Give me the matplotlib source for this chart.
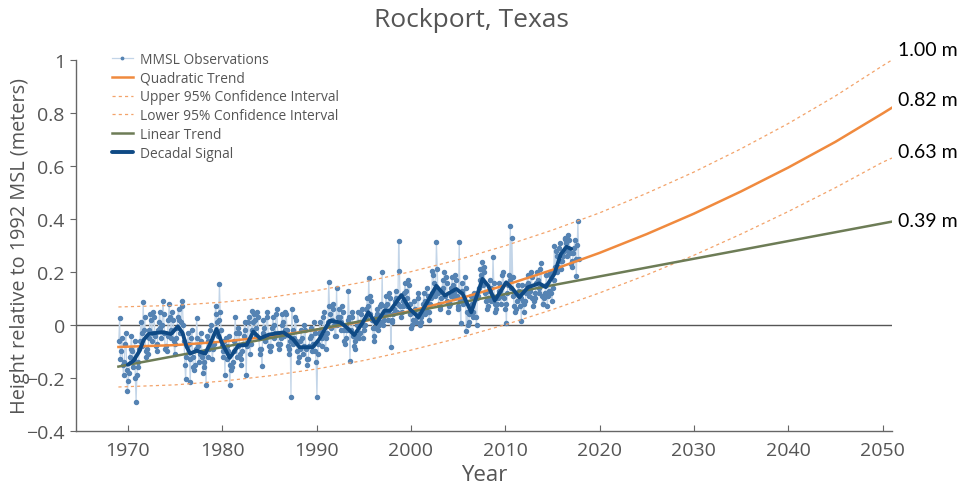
import numpy as np
import matplotlib
matplotlib.use("Agg")
import matplotlib.pyplot as plt
from matplotlib.ticker import FuncFormatter

plt.rcParams["font.family"] = ["Open Sans", "DejaVu Sans"]

# Monthly mean sea level (m, relative to 1992 MSL), one row per year starting Jan 1969
mmsl_start_year = 1969
mmsl_rows = [
    [-0.06, 0.025, -0.13, -0.10, -0.05, -0.15, -0.19, -0.14, -0.07, -0.03, -0.17, -0.25],   # 1969
    [-0.21, -0.18, -0.12, -0.09, -0.04, -0.10, -0.16, -0.13, -0.06, -0.20, -0.29, -0.19],   # 1970
    [-0.14, -0.16, -0.09, -0.06, 0.01, -0.03, -0.08, 0.086, -0.02, 0.03, -0.10, -0.12],     # 1971
    [-0.09, -0.11, -0.05, -0.02, 0.04, 0.02, -0.06, -0.03, 0.05, 0.03, -0.04, -0.08],       # 1972
    [-0.10, -0.07, -0.02, 0.01, 0.05, -0.01, -0.05, 0.00, 0.092, 0.04, -0.03, -0.09],       # 1973
    [-0.08, -0.10, -0.04, 0.02, 0.079, 0.03, -0.05, -0.02, 0.05, 0.02, -0.06, -0.11],       # 1974
    [-0.07, -0.05, -0.01, 0.03, 0.06, 0.02, -0.03, 0.01, 0.092, 0.07, 0.00, -0.06],         # 1975
    [-0.15, -0.204, -0.12, -0.08, -0.03, -0.07, -0.13, -0.214, -0.05, -0.02, -0.12, -0.16], # 1976
    [-0.17, -0.15, -0.09, 0.025, -0.05, -0.08, -0.14, -0.11, -0.03, -0.06, -0.12, -0.18],   # 1977
    [-0.16, -0.14, -0.10, -0.226, -0.04, -0.06, -0.12, -0.09, -0.02, 0.00, -0.08, -0.13],   # 1978
    [-0.09, -0.07, -0.03, 0.073, 0.04, 0.01, -0.04, 0.02, 0.155, 0.05, -0.02, -0.08],       # 1979
    [-0.12, -0.10, -0.06, -0.189, -0.05, -0.08, -0.13, -0.10, -0.04, -0.226, -0.15, -0.17], # 1980
    [-0.16, -0.14, -0.10, -0.06, 0.029, -0.03, -0.12, -0.08, -0.01, -0.03, -0.11, -0.15],   # 1981
    [-0.13, -0.10, -0.07, -0.04, 0.01, -0.02, -0.189, -0.08, 0.01, 0.03, -0.06, -0.11],     # 1982
    [-0.07, 0.054, -0.02, 0.01, 0.04, 0.02, -0.04, -0.01, 0.05, 0.03, -0.05, -0.09],        # 1983
    [-0.11, -0.09, -0.154, -0.03, 0.02, -0.01, -0.06, -0.04, 0.03, 0.05, -0.04, -0.08],     # 1984
    [-0.10, -0.08, -0.04, -0.01, 0.03, 0.00, -0.05, -0.03, 0.04, 0.06, -0.03, -0.07],       # 1985
    [-0.09, -0.07, -0.05, 0.00, 0.04, 0.01, -0.04, -0.02, 0.05, 0.04, -0.02, -0.08],        # 1986
    [-0.11, -0.09, -0.06, -0.273, 0.06, -0.02, -0.07, -0.05, 0.03, 0.02, -0.06, -0.10],     # 1987
    [-0.14, -0.12, -0.09, -0.06, -0.02, -0.05, -0.11, -0.08, 0.00, -0.02, -0.09, -0.13],    # 1988
    [-0.15, -0.13, -0.08, -0.05, -0.01, -0.04, -0.10, -0.07, 0.01, -0.03, -0.10, -0.14],    # 1989
    [-0.273, -0.11, -0.07, -0.03, 0.01, -0.02, -0.08, -0.05, 0.03, 0.05, -0.04, -0.09],     # 1990
    [-0.05, -0.03, 0.01, 0.163, 0.07, 0.04, -0.01, 0.02, 0.08, 0.06, 0.00, -0.04],          # 1991
    [-0.04, 0.138, 0.00, 0.03, 0.06, 0.03, -0.02, 0.01, 0.07, 0.05, -0.02, -0.06],          # 1992
    [-0.07, -0.05, -0.02, 0.02, 0.130, 0.03, -0.135, -0.02, 0.05, 0.03, -0.04, -0.08],      # 1993
    [-0.09, -0.06, -0.04, 0.00, 0.05, 0.01, -0.05, -0.03, 0.04, 0.06, 0.00, -0.05],         # 1994
    [-0.02, 0.00, 0.03, 0.06, 0.10, 0.07, 0.176, 0.04, 0.11, 0.09, 0.02, -0.01],            # 1995
    [-0.06, -0.04, -0.01, 0.03, 0.06, 0.04, -0.02, 0.00, 0.07, 0.08, 0.01, 0.199],          # 1996
    [0.00, 0.02, 0.04, 0.07, 0.11, 0.08, 0.02, 0.05, 0.12, 0.10, -0.084, 0.01],             # 1997
    [0.02, 0.04, 0.06, 0.09, 0.13, 0.10, 0.05, 0.08, 0.318, 0.205, 0.07, 0.03],             # 1998
    [0.05, 0.07, 0.09, 0.12, 0.16, 0.13, 0.07, 0.10, 0.17, 0.15, 0.08, 0.04],               # 1999
    [-0.01, 0.00, 0.02, 0.05, 0.09, 0.06, 0.01, 0.03, 0.10, 0.12, 0.04, 0.00],              # 2000
    [0.01, 0.03, 0.05, 0.08, 0.12, 0.09, 0.04, 0.06, 0.14, 0.11, 0.05, 0.02],               # 2001
    [0.08, 0.10, 0.12, 0.205, 0.19, 0.16, 0.11, 0.13, 0.312, 0.21, 0.12, 0.08],             # 2002
    [0.06, 0.07, 0.10, 0.13, 0.17, 0.14, 0.20, 0.11, 0.18, 0.16, 0.09, 0.05],               # 2003
    [0.07, 0.08, 0.11, 0.14, 0.18, 0.15, 0.10, 0.12, 0.19, 0.17, 0.11, 0.06],               # 2004
    [0.07, 0.314, 0.09, 0.006, 0.16, 0.13, 0.08, 0.10, 0.18, 0.14, -0.021, 0.05],           # 2005
    [0.00, 0.01, 0.04, 0.07, 0.11, 0.08, 0.03, 0.05, 0.12, 0.10, 0.03, 0.00],               # 2006
    [0.10, 0.11, 0.14, 0.17, 0.21, 0.19, 0.236, 0.15, 0.22, 0.20, 0.12, 0.09],              # 2007
    [0.06, 0.07, 0.10, 0.13, 0.17, 0.14, 0.09, 0.11, 0.258, 0.16, 0.08, 0.05],              # 2008
    [0.06, 0.08, 0.10, 0.13, 0.16, 0.13, 0.08, 0.11, 0.19, 0.20, 0.10, 0.06],               # 2009
    [0.08, 0.006, 0.12, 0.15, 0.19, 0.17, 0.375, 0.14, 0.328, 0.18, 0.11, 0.07],            # 2010
    [0.05, 0.06, 0.09, 0.12, 0.15, 0.13, 0.07, 0.10, 0.016, 0.15, 0.09, 0.05],              # 2011
    [0.08, 0.09, 0.12, 0.15, 0.19, 0.16, 0.11, 0.13, 0.20, 0.18, 0.10, 0.07],               # 2012
    [0.09, 0.10, 0.12, 0.16, 0.20, 0.17, 0.12, 0.14, 0.21, 0.233, 0.11, 0.08],              # 2013
    [0.08, 0.10, 0.12, 0.15, 0.19, 0.073, 0.11, 0.13, 0.20, 0.19, 0.12, 0.09],              # 2014
    [0.14, 0.17, 0.299, 0.22, 0.28, 0.26, 0.20, 0.22, 0.29, 0.31, 0.24, 0.21],              # 2015
    [0.24, 0.26, 0.28, 0.325, 0.33, 0.31, 0.26, 0.28, 0.34, 0.32, 0.27, 0.23],              # 2016
    [0.22, 0.24, 0.27, 0.29, 0.32, 0.25, 0.186, 0.30, 0.391, 0.25],                         # 2017
]

# Decadal signal (year, m)
decadal_years = [1970.0, 1970.6, 1971.2, 1971.7, 1972.2, 1973.0, 1973.7, 1974.6, 1975.3, 1975.8,
                 1976.2, 1976.6, 1977.3, 1978.2, 1978.8, 1979.4, 1980.0, 1980.8, 1981.7, 1982.6,
                 1983.3, 1984.0, 1985.0, 1986.5, 1987.5, 1988.2, 1989.6, 1990.3, 1991.4, 1992.5,
                 1993.2, 1994.0, 1994.8, 1995.5, 1996.3, 1997.2, 1997.8, 1999.0, 1999.9, 2000.8,
                 2001.8, 2002.7, 2003.6, 2004.8, 2005.5, 2006.4, 2007.6, 2008.2, 2008.9, 2010.1,
                 2010.8, 2011.5, 2012.4, 2013.6, 2014.3, 2015.2, 2015.9, 2016.5, 2017.0]
decadal_vals = [-0.150, -0.135, -0.100, -0.055, -0.034, -0.030, -0.027, -0.034, -0.005, -0.030,
                -0.080, -0.108, -0.097, -0.108, -0.065, -0.015, -0.070, -0.124, -0.078, -0.075,
                -0.025, -0.050, -0.036, -0.028, -0.053, -0.084, -0.084, -0.053, 0.016, 0.010,
                -0.009, -0.038, 0.004, 0.048, 0.004, 0.054, 0.054, 0.113, 0.060, 0.029,
                0.090, 0.148, 0.111, 0.136, 0.117, 0.048, 0.174, 0.148, 0.092, 0.161,
                0.136, 0.104, 0.142, 0.157, 0.143, 0.192, 0.268, 0.295, 0.287]

# Trend curves and confidence bounds (year, m)
trend_years = [1969, 1975, 1980, 1985, 1990, 1995, 2000, 2005, 2010,
               2015, 2020, 2025, 2030, 2035, 2040, 2045, 2050, 2051]
quadratic = [-0.083, -0.076, -0.063, -0.044, -0.018, 0.014, 0.053, 0.098, 0.150,
             0.208, 0.272, 0.343, 0.420, 0.504, 0.594, 0.691, 0.798, 0.82]
upper_ci = [0.068, 0.074, 0.086, 0.104, 0.130, 0.162, 0.201, 0.246, 0.299,
            0.358, 0.423, 0.497, 0.577, 0.665, 0.760, 0.864, 0.978, 1.00]
lower_ci = [-0.234, -0.226, -0.212, -0.192, -0.166, -0.134, -0.095, -0.050, 0.001,
            0.058, 0.121, 0.189, 0.263, 0.343, 0.428, 0.518, 0.614, 0.63]
linear_years = [1969, 2051]
linear = [-0.157, 0.39]

# Projected values labelled at the right edge
end_labels = ["1.00 m", "0.82 m", "0.63 m", "0.39 m"]
end_values = [upper_ci[-1], quadratic[-1], lower_ci[-1], linear[-1]]
end_offsets = [0.04, 0.03, 0.025, 0.004]

# Assemble the monthly series
obs_t, obs_v = [], []
for i, row in enumerate(mmsl_rows):
    for m, v in enumerate(row):
        obs_t.append(mmsl_start_year + i + (m + 0.5) / 12.0)
        obs_v.append(v)

grey = "#555555"
fig = plt.figure(figsize=(9.64, 4.85), dpi=100)
ax = fig.add_axes([0.0788, 0.1093, 0.8465, 0.765])

ax.axhline(0, color="#555555", lw=1.0, zorder=1)

ax.plot(obs_t, obs_v, color="#c3d5e8", lw=0.9, marker="o", ms=2.9,
        mfc="#5583b3", mec="#5583b3", zorder=2, label="MMSL Observations")
ax.plot(trend_years, quadratic, color="#f08a3e", lw=1.8, zorder=3, label="Quadratic Trend")
ax.plot(trend_years, upper_ci, color="#f3a36a", lw=0.9, ls=(0, (2.5, 2.5)), zorder=3,
        label="Upper 95% Confidence Interval")
ax.plot(trend_years, lower_ci, color="#f3a36a", lw=0.9, ls=(0, (2.5, 2.5)), zorder=3,
        label="Lower 95% Confidence Interval")
ax.plot(linear_years, linear, color="#6d7c56", lw=1.8, zorder=3, label="Linear Trend")
ax.plot(decadal_years, decadal_vals, color="#0f4a85", lw=2.8, zorder=4,
        solid_joinstyle="round", solid_capstyle="round", label="Decadal Signal")

ax.set_xlim(1964.5, 2051)
ax.set_ylim(-0.4, 1.0)
ax.set_xticks(range(1970, 2051, 10))
ax.set_yticks([-0.4, -0.2, 0, 0.2, 0.4, 0.6, 0.8, 1.0])
ax.yaxis.set_major_formatter(FuncFormatter(lambda v, p: f"{v:g}".replace("-", "\u2212")))

for s in ("top", "right"):
    ax.spines[s].set_visible(False)
for s in ("left", "bottom"):
    ax.spines[s].set_color("#666666")
    ax.spines[s].set_linewidth(1.0)
ax.tick_params(axis="x", direction="in", length=4, color="#666666", labelcolor=grey,
               labelsize=14, pad=7)
ax.tick_params(axis="y", direction="out", length=4, color="#666666", labelcolor=grey,
               labelsize=14, pad=4)

ax.set_xlabel("Year", fontsize=16, color=grey, labelpad=4)
ax.set_ylabel("Height relative to 1992 MSL (meters)", fontsize=14.3, color=grey, labelpad=-2.5)
fig.text(0.489, 0.958, "Rockport, Texas", ha="center", va="center", fontsize=19, color=grey)

for lab, val, off in zip(end_labels, end_values, end_offsets):
    ax.text(2051.6, val + off, lab, ha="left", va="center", fontsize=14,
            color="black", family=["Lato", "DejaVu Sans"], clip_on=False)

ax.legend(loc="upper left", bbox_to_anchor=(112 / 964, 1 - 53 / 485),
          bbox_transform=fig.transFigure, frameon=False, fontsize=9.9,
          labelcolor=grey, handlelength=1.5, handletextpad=0.5,
          labelspacing=0.27, borderaxespad=0, borderpad=0, markerscale=0.6)

fig.savefig("out.png", dpi=100)
